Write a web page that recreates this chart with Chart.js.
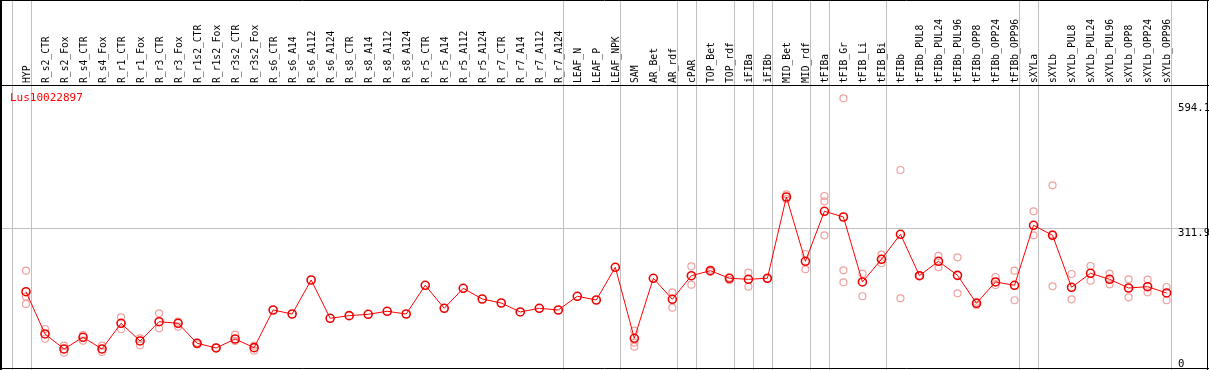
<!DOCTYPE html>
<html>
<head>
<meta charset="utf-8">
<script src="https://cdn.jsdelivr.net/npm/chart.js@4/dist/chart.umd.min.js"></script>
<style>
  body { margin: 0; background: #fff; }
  #wrap { width: 1209px; height: 370px; }
</style>
</head>
<body>
<div id="wrap"><canvas id="expr" width="1209" height="370"></canvas></div>
<script>
// sample names (columns)
const categories = [
  "HYP", "R_s2_CTR", "R_s2_Fox", "R_s4_CTR", "R_s4_Fox", "R_r1_CTR", "R_r1_Fox", "R_r3_CTR", "R_r3_Fox",
  "R_r1s2_CTR", "R_r1s2_Fox", "R_r3s2_CTR", "R_r3s2_Fox",
  "R_s6_CTR", "R_s6_A14", "R_s6_A112", "R_s6_A124", "R_s8_CTR", "R_s8_A14", "R_s8_A112", "R_s8_A124",
  "R_r5_CTR", "R_r5_A14", "R_r5_A112", "R_r5_A124", "R_r7_CTR", "R_r7_A14", "R_r7_A112", "R_r7_A124",
  "LEAF_N", "LEAF_P", "LEAF_NPK", "SAM", "AR_Bet", "AR_rdf", "cPAR", "TOP_Bet", "TOP_rdf",
  "iFIBa", "iFIBb", "MID_Bet", "MID_rdf", "tFIBa", "tFIB_Gr", "tFIB_Li", "tFIB_Bi", "tFIBb",
  "tFIBb_PUL8", "tFIBb_PUL24", "tFIBb_PUL96", "tFIBb_OPP8", "tFIBb_OPP24", "tFIBb_OPP96",
  "sXYLa", "sXYLb", "sXYLb_PUL8", "sXYLb_PUL24", "sXYLb_PUL96", "sXYLb_OPP8", "sXYLb_OPP24", "sXYLb_OPP96"
]

// mean expression per sample
const meanValues = [
  167.8, 71.7, 37.6, 64.2, 37.6, 96.0, 55.8, 99.6, 96.0, 50.5, 39.9, 60.3, 40.6,
  126.2, 117.1, 194.4, 107.4, 113.3, 116.4, 123.3, 117.1, 182.4, 130.1, 175.5, 151.2,
  142.1, 121.7, 130.1, 126.2, 157.4, 148.9,
  223.3, 61.9, 198.3, 150.5, 204.2, 215.5, 198.3, 196.0, 198.3, 383.0, 236.9, 350.5,
  337.6, 189.9, 241.4,
  298.3, 204.2, 236.9, 205.0, 141.4, 189.9, 182.4, 318.7, 296.0, 177.8, 209.6, 196.0,
  176.2, 179.2, 164.9
]

// individual replicates per sample
const replicateValues = [
  [215.5, 156.4, 139.9], [83, 60.9], [45, 29.2], [69.4, 56.4], [45, 30.7], [109.6, 82.4],
  [61.9, 45.9], [118.7, 84.6], [99.6, 88.3], [52, 48], [40.5], [70.1, 55.8], [45, 33.7],
  [], [], [], [], [], [], [], [], [], [], [], [], [], [], [], [], [], [],
  [], [79.2, 52.2, 42.8], [], [166.4, 131.4], [225.5, 183.7], [218, 213], [200, 194],
  [211, 179.2], [198], [389.2, 378], [253.5, 218.7], [385.3, 373.3, 296],
  [607.4, 216.4, 189.2], [208.7, 157.4], [251.9, 232.4],
  [444.4, 152.8], [205, 203], [249, 223.3], [246, 164.2], [145, 137], [201.2, 183],
  [215.5, 148.3], [350.5, 296], [409.6, 298, 180.1], [208, 150.5], [226.2, 192.8],
  [208.7, 184.6], [196, 155.1], [195.3, 166.4], [178.5, 148.3]
]

const yTicks = [0, 311.9, 594.1]
const geneName = "Lus10022897"
// grey separators sit just after these columns (-1 = before the first)
const groupBreaks = [-1, 0, 28, 31, 34, 35, 37, 38, 39, 41, 42, 45, 52, 53, 60]

const FONT = '11px "DejaVu Sans Mono", monospace'
const SQUEEZE = 0.88

const meanPoints = meanValues.map((v, i) => ({ x: i, y: v }))
const repPoints = []
replicateValues.forEach((reps, i) => reps.forEach((v) => repPoints.push({ x: i, y: v })))

const frame = {
  id: "frame",
  beforeDatasetsDraw(chart) {
    const { ctx, scales } = chart
    const x = scales.x
    const y = scales.y
    ctx.save()
    ctx.strokeStyle = "#c0c0c0"
    ctx.lineWidth = 1
    groupBreaks.forEach((b) => {
      const px = Math.round(x.getPixelForValue(b + 0.25)) + 0.5
      ctx.beginPath()
      ctx.moveTo(px, 0)
      ctx.lineTo(px, 370)
      ctx.stroke()
    })
    const gy = Math.round(y.getPixelForValue(311.9)) + 0.5
    ctx.beginPath()
    ctx.moveTo(1, gy)
    ctx.lineTo(1207, gy)
    ctx.stroke()

    // header labels, vertical
    ctx.fillStyle = "#000"
    ctx.font = FONT
    ctx.textAlign = "left"
    ctx.textBaseline = "middle"
    categories.forEach((c, i) => {
      ctx.save()
      ctx.translate(x.getPixelForValue(i) + 1, 83)
      ctx.rotate(-Math.PI / 2)
      ctx.scale(SQUEEZE, 1)
      ctx.fillText(c, 0, 0)
      ctx.restore()
    })

    // borders
    ctx.strokeStyle = "#000"
    ctx.beginPath()
    ctx.moveTo(0, 0.5)
    ctx.lineTo(1209, 0.5)
    ctx.moveTo(0, 85.5)
    ctx.lineTo(1209, 85.5)
    ctx.moveTo(0, 368.5)
    ctx.lineTo(1209, 368.5)
    ctx.moveTo(1207.5, 0)
    ctx.lineTo(1207.5, 370)
    ctx.stroke()
    ctx.lineWidth = 2
    ctx.beginPath()
    ctx.moveTo(1, 0)
    ctx.lineTo(1, 370)
    ctx.stroke()

    // gene name
    ctx.fillStyle = "#ff0000"
    ctx.textBaseline = "alphabetic"
    ctx.fillText(geneName, 10, 101)

    // y tick labels on the right, inside the plot
    ctx.fillStyle = "#000"
    yTicks.forEach((t) => {
      const py = y.getPixelForValue(t)
      ctx.save()
      ctx.textBaseline = t === 0 ? "alphabetic" : "top"
      ctx.translate(1178, t === 0 ? py + 1 : py - 1)
      ctx.scale(0.97, 1)
      ctx.fillText(String(t), 0, 0)
      ctx.restore()
    })
    ctx.restore()
  },
}

new Chart(document.getElementById("expr"), {
  type: "line",
  data: {
    datasets: [
      {
        label: "mean",
        data: meanPoints,
        borderColor: "#ff0000",
        borderWidth: 1,
        pointRadius: 4,
        pointBorderWidth: 1.6,
        pointBorderColor: "#ee0000",
        pointBackgroundColor: "rgba(0,0,0,0)",
        tension: 0,
      },
      {
        label: "replicates",
        data: repPoints,
        showLine: false,
        pointRadius: 3.5,
        pointBorderWidth: 1.2,
        pointBorderColor: "#f0a0a0",
        pointBackgroundColor: "rgba(0,0,0,0)",
      },
    ],
  },
  options: {
    responsive: false,
    animation: false,
    events: [],
    layout: { autoPadding: false, padding: { left: 1, right: 2, top: 86, bottom: 1 } },
    plugins: { legend: { display: false }, tooltip: { enabled: false } },
    scales: {
      x: { type: "linear", display: false, min: -1.315, max: 62.125 },
      y: { type: "linear", display: false, min: -7.9, max: 635.3 },
    },
  },
  plugins: [frame],
})
</script>
</body>
</html>
